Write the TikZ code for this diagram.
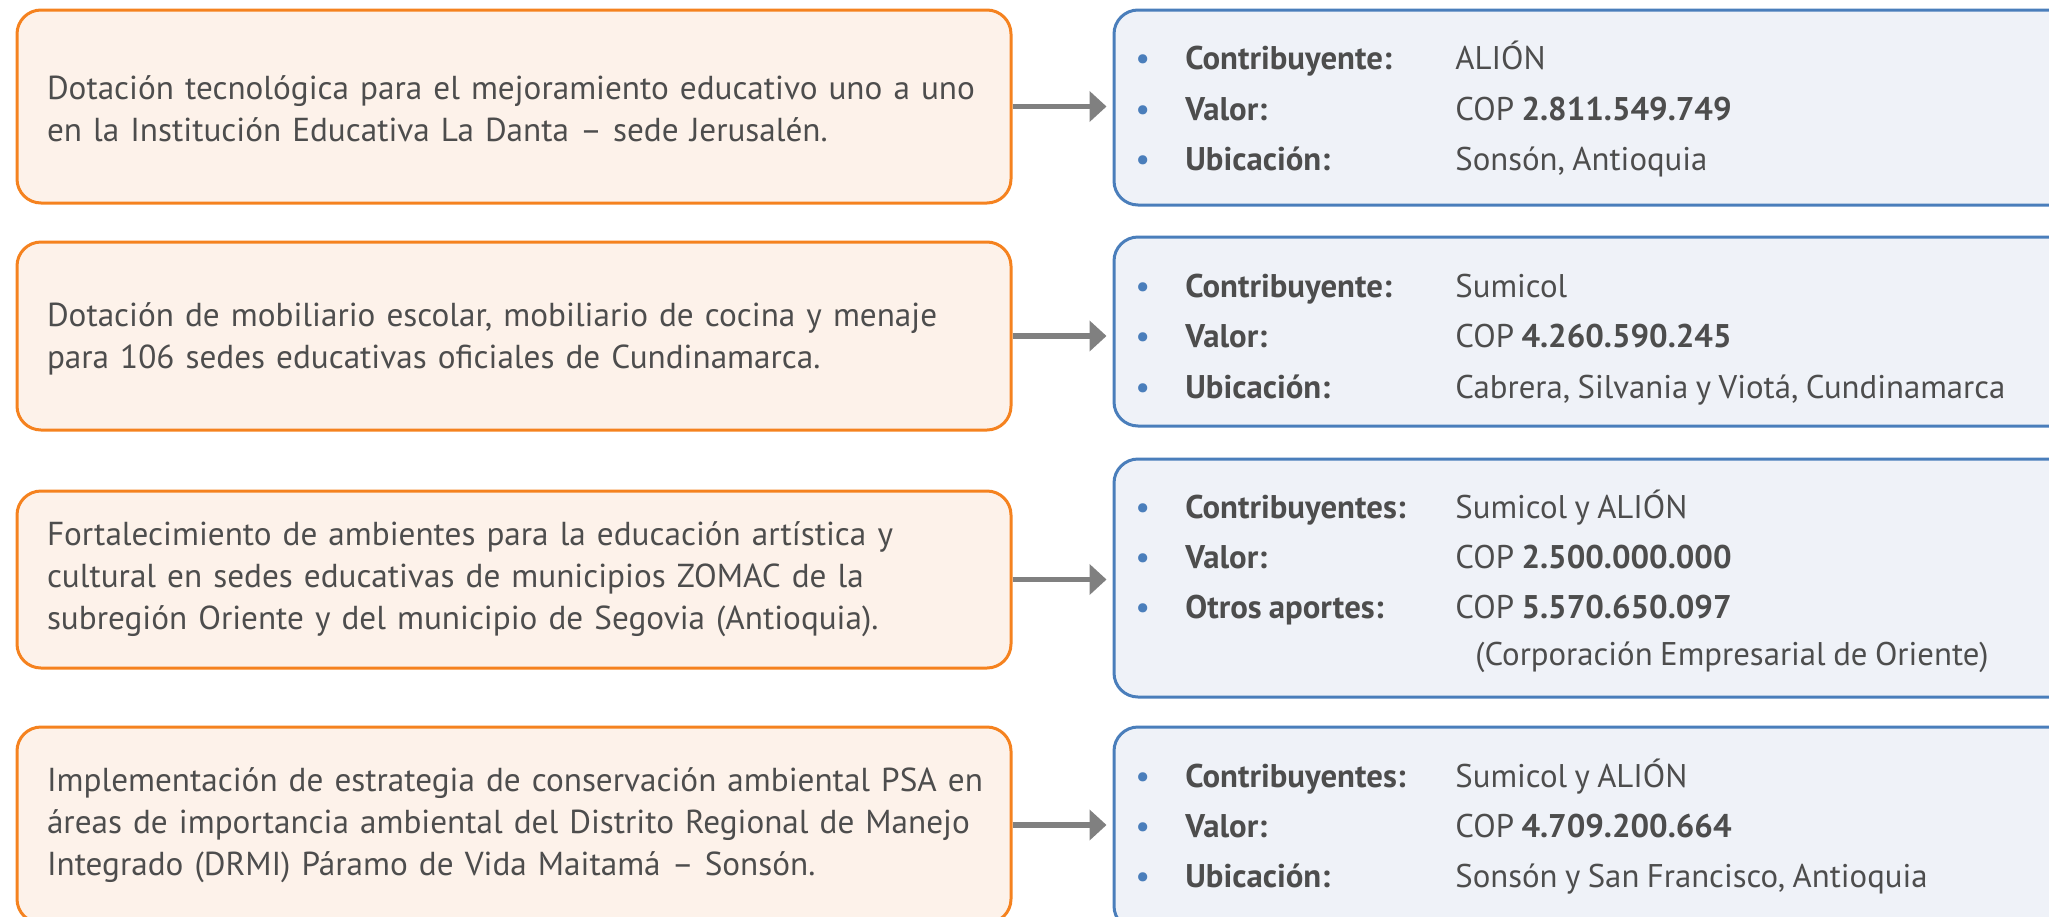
\documentclass[tikz,border=0pt]{standalone}
\usepackage{fontspec}
\setmainfont{PT Sans}[WordSpace=0.85]
\usetikzlibrary{arrows.meta}
\definecolor{boxorange}{HTML}{F5821F}
\definecolor{fillorange}{HTML}{FDF2EA}
\definecolor{boxblue}{HTML}{4A7EBB}
\definecolor{fillblue}{HTML}{EFF2F8}
\definecolor{textgray}{HTML}{4D4D4D}
\definecolor{arrowgray}{HTML}{808080}
\newcommand{\boxlines}[2][0pt]{\raisebox{#1}[\height][\depth]{\begin{tabular}{@{}l@{}}#2\end{tabular}}}
\newcommand{\itemrow}[2]{\makebox[25pt][l]{\textcolor{boxblue}{•}}\makebox[135pt][l]{\textbf{#1}}#2}
\tikzset{
  taskbox/.style={draw=boxorange, fill=fillorange, line width=1.5pt, rounded corners=12pt,
    minimum width=497pt, text width=467pt, inner xsep=15pt, align=left,
    font=\fontsize{16.6}{21}\selectfont, text=textgray},
  databox/.style={draw=boxblue, fill=fillblue, line width=1.5pt, rounded corners=12pt, minimum width=483pt},
  datarow/.style={anchor=base west, inner sep=0pt, font=\fontsize{16.4}{19}\selectfont, text=textgray},
  flow/.style={draw=arrowgray, line width=2.65pt, -{Triangle[length=8.5pt,width=15pt]}, shorten >=3pt}
}
\begin{document}
\begin{tikzpicture}[x=0.5pt, y=-0.5pt]
\useasboundingbox (0,0) rectangle (2049,916);
\clip (0,0) rectangle (2049,916);

\node[taskbox, minimum height=96.5pt] (t1) at (514,106.5) {\boxlines[-3pt]{Dotación tecnológica para el mejoramiento educativo uno a uno\\en la Institución Educativa La Danta – sede Jerusalén.}};
\node[taskbox, minimum height=94pt] (t2) at (514,336) {\boxlines[-1.5pt]{Dotación de mobiliario escolar, mobiliario de cocina y menaje\\para 106 sedes educativas oficiales de Cundinamarca.}};
\node[taskbox, minimum height=88.5pt] (t3) at (514,579.5) {\boxlines{Fortalecimiento de ambientes para la educación artística y\\cultural en sedes educativas de municipios ZOMAC de la\\subregión Oriente y del municipio de Segovia (Antioquia).}};
\node[taskbox, minimum height=98pt] (t4) at (514,825) {\boxlines{Implementación de estrategia de conservación ambiental PSA en\\áreas de importancia ambiental del Distrito Regional de Manejo\\Integrado (DRMI) Páramo de Vida Maitamá – Sonsón.}};

\node[databox, minimum height=97.5pt] (d1) at (1597,107.5) {};
\node[databox, minimum height=94.5pt] (d2) at (1597,331.5) {};
\node[databox, minimum height=119pt] (d3) at (1597,578) {};
\node[databox, minimum height=101.5pt] (d4) at (1597,828.5) {};

\draw[flow] (t1.east) -- (t1.east -| d1.west);
\draw[flow] (t2.east) -- (t2.east -| d2.west);
\draw[flow] (t3.east) -- (t3.east -| d3.west);
\draw[flow] (t4.east) -- (t4.east -| d4.west);

\node[datarow] (r11) at (1135,69) {\itemrow{Contribuyente:}{ALIÓN}};
\node[datarow] (r12) at (1135,120) {\itemrow{Valor:}{COP \textbf{2.811.549.749}}};
\node[datarow] (r13) at (1135,170) {\itemrow{Ubicación:}{Sonsón, Antioquia}};

\node[datarow] (r21) at (1135,297) {\itemrow{Contribuyente:}{Sumicol}};
\node[datarow] (r22) at (1135,347) {\itemrow{Valor:}{COP \textbf{4.260.590.245}}};
\node[datarow] (r23) at (1135,398) {\itemrow{Ubicación:}{Cabrera, Silvania y Viotá, Cundinamarca}};

\node[datarow] (r31) at (1135,518) {\itemrow{Contribuyentes:}{Sumicol y ALIÓN}};
\node[datarow] (r32) at (1135,568) {\itemrow{Valor:}{COP \textbf{2.500.000.000}}};
\node[datarow] (r33) at (1135,618) {\itemrow{Otros aportes:}{COP \textbf{5.570.650.097}}};
\node[datarow] (r34) at (1475,665) {(Corporación Empresarial de Oriente)};

\node[datarow] (r41) at (1135,787) {\itemrow{Contribuyentes:}{Sumicol y ALIÓN}};
\node[datarow] (r42) at (1135,837) {\itemrow{Valor:}{COP \textbf{4.709.200.664}}};
\node[datarow] (r43) at (1135,887) {\itemrow{Ubicación:}{Sonsón y San Francisco, Antioquia}};
\end{tikzpicture}
\end{document}
